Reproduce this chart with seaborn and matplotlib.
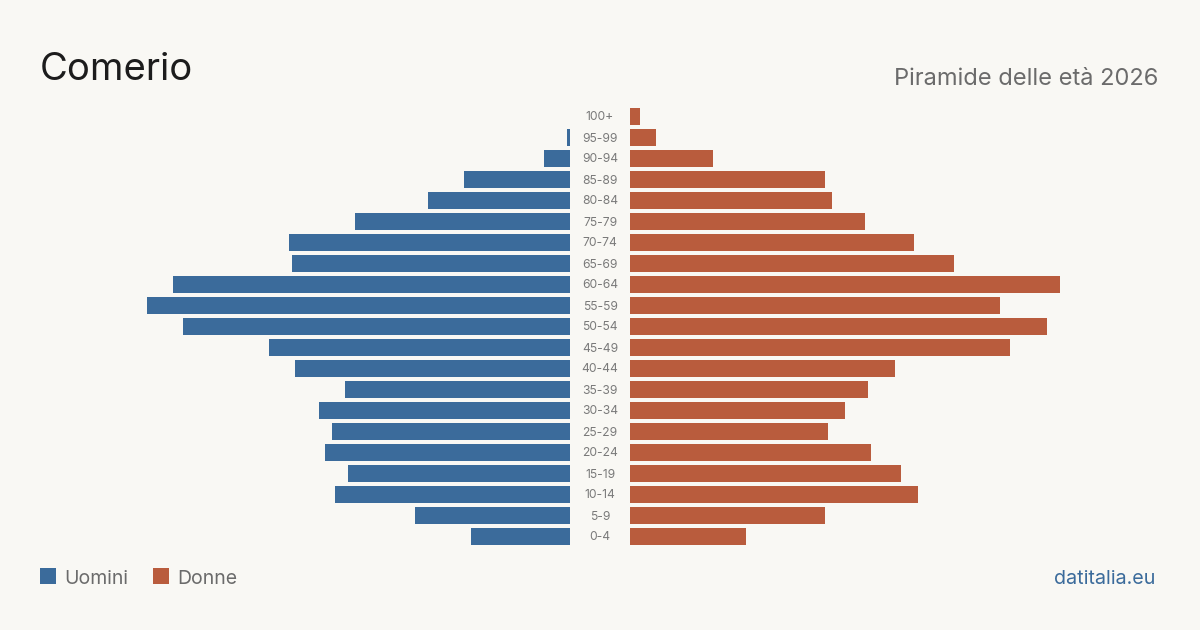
import numpy as np
import pandas as pd
import matplotlib
matplotlib.use("Agg")
import matplotlib.pyplot as plt
import seaborn as sns
from matplotlib.patches import Rectangle

# age classes, top to bottom
ages = ["100+", "95-99", "90-94", "85-89", "80-84", "75-79", "70-74", "65-69",
        "60-64", "55-59", "50-54", "45-49", "40-44", "35-39", "30-34", "25-29",
        "20-24", "15-19", "10-14", "5-9", "0-4"]
uomini = [0, 1, 8, 32, 43, 65, 85, 84, 120, 128, 117, 91, 83, 68, 76, 72,
          74, 67, 71, 47, 30]
donne = [3, 8, 25, 59, 61, 71, 86, 98, 130, 112, 126, 115, 80, 72, 65, 60,
         73, 82, 87, 59, 35]

BG = "#f9f8f4"
BLUE = "#3b6b9b"
ORANGE = "#b95c3d"
GREY = "#6b6b6b"

sns.set_theme(style="white")
plt.rcParams["font.family"] = ["Inter", "DejaVu Sans"]

W, H = 1200, 630
fig = plt.figure(figsize=(W / 100, H / 100), dpi=100, facecolor=BG)

df = pd.DataFrame({"eta": ages, "Uomini": uomini, "Donne": donne})

# pixel layout
ppu = 430 / max(max(uomini), max(donne))   # px per person
top, bottom = 105.5, 546.5
ax_w = 530
yb = 1 - bottom / H
hh = (bottom - top) / H

axl = fig.add_axes([40 / W, yb, ax_w / W, hh])
axr = fig.add_axes([630 / W, yb, ax_w / W, hh])

sns.barplot(data=df, x="Uomini", y="eta", orient="h", ax=axl, color=BLUE,
            saturation=1, width=17 / 21, linewidth=0)
sns.barplot(data=df, x="Donne", y="eta", orient="h", ax=axr, color=ORANGE,
            saturation=1, width=17 / 21, linewidth=0)

axl.set_xlim(ax_w / ppu, 0)
axr.set_xlim(0, ax_w / ppu)

for ax in (axl, axr):
    ax.set_facecolor("none")
    ax.set_xlabel("")
    ax.set_ylabel("")
    ax.set_xticks([])
    sns.despine(ax=ax, left=True, bottom=True)
    ax.set_ylim(len(ages) - 0.5, -0.5)

axl.set_yticks([])
axr.tick_params(axis="y", length=0, pad=30 * 0.72, labelsize=8.7, labelcolor="#7a7a7a")
for lab in axr.get_yticklabels():
    lab.set_horizontalalignment("center")

# titles
fig.text(40 / W, 1 - 80 / H, "Comerio", fontsize=27.5, color="#1c1c1c", va="baseline")
fig.text(1158 / W, 1 - 85 / H, "Piramide delle età 2026", fontsize=17,
         color=GREY, va="baseline", ha="right")

# legend
for x0, col, name in [(40, BLUE, "Uomini"), (153, ORANGE, "Donne")]:
    fig.patches.append(Rectangle((x0 / W, 1 - 584 / H), 16 / W, 16 / H,
                                 transform=fig.transFigure, color=col, lw=0))
    fig.text((x0 + 24) / W, 1 - 583.5 / H, name, fontsize=14, color=GREY,
             va="baseline")

fig.text(1155 / W, 1 - 583.5 / H, "datitalia.eu", fontsize=14.2, color=BLUE,
         va="baseline", ha="right")

fig.savefig("out.png", dpi=100, facecolor=BG)
